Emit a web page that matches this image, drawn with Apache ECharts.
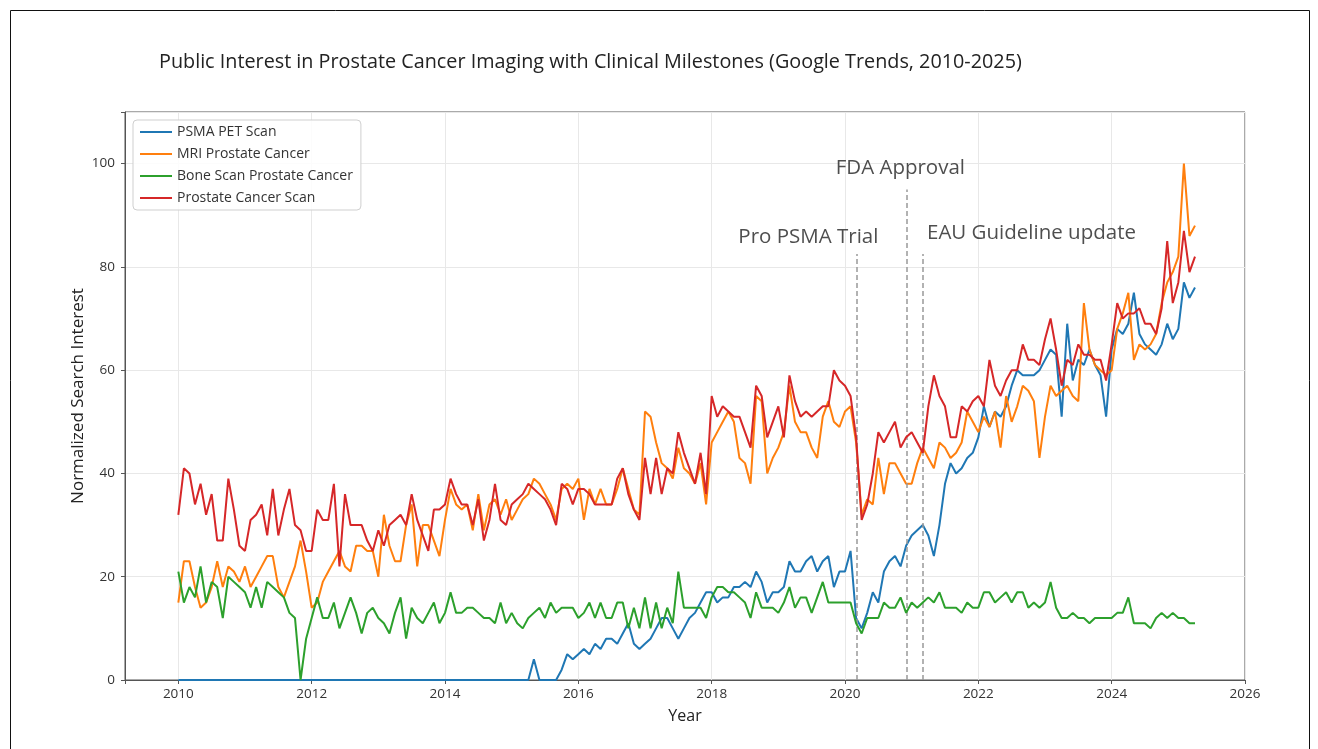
<!DOCTYPE html>
<html>
<head>
<meta charset="utf-8">
<title>Public Interest in Prostate Cancer Imaging</title>
<script src="https://cdn.jsdelivr.net/npm/echarts@6/dist/echarts.min.js"></script>
<style>
  html, body { margin: 0; padding: 0; background: #fff; }
  #chart { width: 1318px; height: 749px; }
</style>
</head>
<body>
<div id="chart"></div>
<script>
// monthly values, Jan 2010 .. Apr 2025
const startYear = 2010

const psmaPet = [
  0, 0, 0, 0, 0, 0, 0, 0, 0, 0, 0, 0, 0, 0, 0, 0, 0, 0, 0, 0,
  0, 0, 0, 0, 0, 0, 0, 0, 0, 0, 0, 0, 0, 0, 0, 0, 0, 0, 0, 0,
  0, 0, 0, 0, 0, 0, 0, 0, 0, 0, 0, 0, 0, 0, 0, 0, 0, 0, 0, 0,
  0, 0, 0, 0, 4, 0, 0, 0, 0, 2, 5, 4, 5, 6, 5, 7, 6, 8, 8, 7,
  9, 11, 7, 6, 7, 8, 10, 12, 12, 10, 8, 10, 12, 13, 15, 17, 17, 15, 16, 16,
  18, 18, 19, 18, 21, 19, 15, 17, 17, 18, 23, 21, 21, 23, 24, 21, 23, 24, 18, 21,
  21, 25, 12, 10, 13, 17, 15, 21, 23, 24, 22, 26, 28, 29, 30, 28, 24, 30, 38, 42,
  40, 41, 43, 44, 47, 53, 49, 52, 51, 53, 57, 60, 59, 59, 59, 60, 62, 64, 63, 51,
  69, 58, 62, 61, 64, 61, 59, 51, 64, 68, 67, 69, 75, 67, 65, 64, 63, 65, 69, 66,
  68, 77, 74, 76
]

const mriProstate = [
  15, 23, 23, 18, 14, 15, 18, 23, 18, 22, 21, 19, 22, 18, 20, 22, 24, 24, 18, 16,
  19, 22, 27, 21, 14, 15, 19, 21, 23, 25, 22, 21, 26, 26, 25, 25, 20, 32, 26, 23,
  23, 30, 34, 22, 30, 30, 27, 24, 31, 37, 34, 33, 34, 29, 36, 29, 34, 35, 32, 35,
  31, 33, 35, 36, 39, 38, 36, 34, 31, 37, 38, 37, 39, 31, 37, 34, 37, 34, 34, 37,
  41, 37, 33, 32, 52, 51, 46, 42, 41, 39, 45, 41, 40, 38, 42, 34, 46, 48, 50, 52,
  50, 43, 42, 38, 55, 54, 40, 43, 45, 48, 57, 50, 48, 48, 45, 43, 51, 54, 50, 49,
  52, 53, 46, 32, 35, 34, 43, 36, 42, 42, 40, 38, 38, 42, 45, 43, 41, 46, 45, 43,
  44, 46, 52, 50, 48, 51, 49, 52, 45, 55, 50, 53, 57, 56, 54, 43, 51, 57, 55, 56,
  57, 55, 54, 73, 64, 61, 60, 59, 60, 68, 71, 75, 62, 65, 64, 65, 67, 73, 77, 79,
  82, 100, 86, 88
]

const boneScan = [
  21, 15, 18, 16, 22, 15, 19, 18, 12, 20, 19, 18, 17, 14, 18, 14, 19, 18, 17, 16,
  13, 12, 0, 8, 12, 16, 12, 12, 15, 10, 13, 16, 13, 9, 13, 14, 12, 11, 9, 13,
  16, 8, 14, 12, 11, 13, 15, 11, 13, 17, 13, 13, 14, 14, 13, 12, 12, 11, 15, 11,
  13, 11, 10, 12, 13, 14, 12, 15, 13, 14, 14, 14, 12, 13, 15, 12, 15, 12, 12, 15,
  15, 10, 14, 10, 16, 10, 15, 10, 14, 11, 21, 14, 14, 14, 14, 12, 16, 18, 18, 17,
  17, 16, 15, 12, 17, 14, 14, 14, 13, 15, 18, 14, 16, 16, 13, 16, 19, 15, 15, 15,
  15, 15, 11, 9, 12, 12, 12, 15, 14, 14, 16, 13, 15, 14, 15, 16, 15, 17, 14, 14,
  14, 13, 15, 14, 14, 17, 17, 15, 16, 17, 15, 17, 17, 14, 15, 14, 15, 19, 14, 12,
  12, 13, 12, 12, 11, 12, 12, 12, 12, 13, 13, 16, 11, 11, 11, 10, 12, 13, 12, 13,
  12, 12, 11, 11
]

const prostateScan = [
  32, 41, 40, 34, 38, 32, 36, 27, 27, 39, 33, 26, 25, 31, 32, 34, 28, 37, 28, 33,
  37, 30, 29, 25, 25, 33, 31, 31, 38, 22, 36, 30, 30, 30, 27, 25, 29, 26, 30, 31,
  32, 30, 36, 31, 28, 25, 33, 33, 34, 39, 36, 34, 34, 30, 35, 27, 31, 38, 31, 30,
  34, 35, 36, 38, 37, 36, 35, 33, 30, 38, 37, 34, 37, 37, 36, 34, 34, 34, 34, 39,
  41, 36, 33, 31, 43, 36, 43, 36, 41, 40, 48, 44, 41, 38, 44, 36, 55, 51, 53, 52,
  51, 51, 48, 45, 57, 55, 47, 50, 53, 47, 59, 54, 51, 52, 51, 52, 53, 53, 60, 58,
  57, 55, 47, 31, 34, 40, 48, 46, 48, 50, 45, 47, 48, 46, 44, 53, 59, 55, 53, 47,
  47, 53, 52, 54, 55, 53, 62, 57, 55, 58, 60, 60, 65, 62, 62, 61, 66, 70, 64, 57,
  62, 61, 65, 63, 63, 62, 62, 58, 65, 73, 70, 71, 71, 72, 69, 69, 67, 72, 85, 73,
  77, 87, 79, 82
]

const seriesNames = ['PSMA PET Scan', 'MRI Prostate Cancer', 'Bone Scan Prostate Cancer', 'Prostate Cancer Scan']
const seriesColors = ['#1f77b4', '#ff7f0e', '#2ca02c', '#d62728']

// milestones: year of event, top of dashed line, label anchor
const milestoneNames = ['Pro PSMA Trial', 'FDA Approval', 'EAU Guideline update']
const milestoneYears = [2020.17, 2020.92, 2021.17]
const milestoneTops = [82.5, 95, 82.5]
const milestoneLabelX = [2019.45, 2020.83, 2021.23]
const milestoneLabelY = [85.8, 99.1, 86.6]
const milestoneAlign = ['center', 'center', 'left']

const FONT = '"Open Sans", "Noto Sans", sans-serif'

const chart = echarts.init(document.getElementById('chart'))

const toPoints = arr => arr.map((v, i) => [startYear + i / 12, v])

const lineSeries = [psmaPet, mriProstate, boneScan, prostateScan].map((arr, k) => ({
  name: seriesNames[k],
  type: 'line',
  data: toPoints(arr),
  showSymbol: false,
  symbol: 'none',
  lineStyle: { width: 2, color: seriesColors[k] },
  itemStyle: { color: seriesColors[k] },
  z: 3 + k,
  silent: true
}))

// dashed milestone lines
lineSeries[0].markLine = {
  silent: true,
  symbol: ['none', 'none'],
  label: { show: false },
  lineStyle: { color: '#999', type: [5, 3], width: 1.5 },
  data: milestoneYears.map((x, k) => [{ coord: [x, 0] }, { coord: [x, milestoneTops[k]] }])
}

const labelSeries = {
  name: 'milestones',
  type: 'scatter',
  symbolSize: 0,
  silent: true,
  z: 10,
  data: milestoneNames.map((n, k) => ({
    value: [milestoneLabelX[k], milestoneLabelY[k]],
    label: {
      show: true,
      position: 'inside',
      formatter: n,
      align: milestoneAlign[k],
      verticalAlign: 'middle',
      fontSize: 20.5,
      fontFamily: FONT,
      color: '#222'
    }
  }))
}

const option = {
  animation: false,
  backgroundColor: '#fff',
  title: {
    text: 'Public Interest in Prostate Cancer Imaging with Clinical Milestones (Google Trends, 2010-2025)',
    left: 154,
    top: 47,
    textStyle: { fontSize: 19.8, fontWeight: 'normal', color: '#222', fontFamily: FONT }
  },
  legend: {
    data: seriesNames,
    orient: 'vertical',
    left: 133,
    top: 120,
    padding: [5, 8, 5, 7],
    itemGap: 8,
    itemWidth: 32,
    itemHeight: 2,
    icon: 'rect',
    borderColor: '#cfcfcf',
    borderWidth: 1,
    borderRadius: 4,
    backgroundColor: 'rgba(255,255,255,0.85)',
    textStyle: { fontSize: 14, lineHeight: 14, color: '#333', fontFamily: FONT }
  },
  grid: {
    left: 125,
    right: 73,
    top: 112,
    bottom: 69,
    show: true,
    borderColor: '#555',
    borderWidth: 1
  },
  xAxis: {
    type: 'value',
    min: 2009.2,
    max: 2026,
    minInterval: 2,
    maxInterval: 2,
    name: 'Year',
    nameLocation: 'middle',
    nameGap: 28,
    nameTextStyle: { fontSize: 16, color: '#222', fontFamily: FONT },
    axisLine: { lineStyle: { color: '#555' } },
    axisTick: { length: 4, lineStyle: { color: '#555' } },
    axisLabel: {
      fontSize: 13.5,
      color: '#333',
      fontFamily: FONT,
      margin: 7,
      formatter: v => (Math.abs(v % 2) < 1e-6 ? String(v) : '')
    },
    splitLine: { show: true, lineStyle: { color: '#e8e8e8', width: 1 } }
  },
  yAxis: {
    type: 'value',
    min: 0,
    max: 110,
    interval: 20,
    name: 'Normalized Search Interest',
    nameLocation: 'middle',
    nameGap: 38,
    nameMoveOverlap: false,
    nameTextStyle: { fontSize: 17, color: '#222', fontFamily: FONT },
    axisLine: { show: true, lineStyle: { color: '#555' } },
    axisTick: { show: true, length: 4, lineStyle: { color: '#555' } },
    axisLabel: {
      fontSize: 13.5,
      color: '#333',
      fontFamily: FONT,
      margin: 10,
      formatter: v => (v > 100 ? '' : String(v))
    },
    splitLine: { show: true, lineStyle: { color: '#e8e8e8', width: 1 } }
  },
  graphic: [{
    type: 'rect',
    shape: { x: 10.5, y: 10.5, width: 1299, height: 760 },
    style: { fill: 'none', stroke: '#111', lineWidth: 1 },
    silent: true,
    z: -1
  }],
  series: [...lineSeries, labelSeries]
}

chart.setOption(option)
</script>
</body>
</html>
